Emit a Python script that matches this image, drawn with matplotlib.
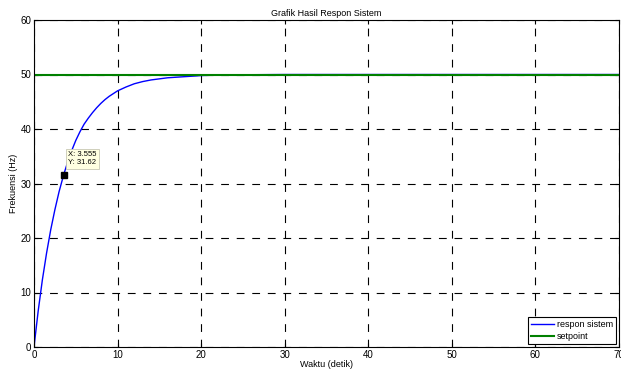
import matplotlib
matplotlib.use("Agg")
import matplotlib.pyplot as plt

plt.rcParams['font.family'] = ['Liberation Sans', 'DejaVu Sans']

# waktu (detik) dan respon sistem (Hz)
waktu = [0, 0.5, 1, 1.5, 2, 2.5, 3, 3.555, 4, 4.5, 5, 5.5, 6, 6.5, 7, 7.5, 8,
         8.5, 9, 9.5, 10, 11, 12, 13, 14, 15, 16, 17, 18, 19, 20, 22, 25, 30,
         40, 50, 60, 70]
respon = [0, 6.6, 12.3, 17.2, 21.5, 25.2, 28.5, 31.62, 33.8, 36.0, 37.9, 39.5,
          40.9, 42.0, 43.0, 43.9, 44.7, 45.4, 46.0, 46.5, 47.0, 47.7, 48.3,
          48.7, 49.0, 49.2, 49.4, 49.5, 49.6, 49.7, 49.8, 49.9, 49.95, 50, 50,
          50, 50, 50]
setpoint_t = [0, 70]
setpoint_y = [50, 50]
tip_x = 3.555
tip_y = 31.62

fig = plt.figure(figsize=(6.21, 3.73), dpi=100)
ax = fig.add_axes([34 / 621, 26 / 373, 585 / 621, 327 / 373])

ax.plot(waktu, respon, color="#0000ff", lw=1.0, label="respon sistem")
ax.plot(setpoint_t, setpoint_y, color="#008000", lw=1.5, label="setpoint")
ax.plot([tip_x], [tip_y], marker="s", color="black", ms=4, ls="none")
ax.annotate("X: " + str(tip_x) + "\nY: " + str(tip_y), xy=(tip_x, tip_y),
            xytext=(3, 6), textcoords="offset points", fontsize=5.5,
            va="bottom", ha="left",
            bbox=dict(boxstyle="square,pad=0.3", fc="#ffffe1", ec="#c8c8b4", lw=0.6))

ax.set_xlim(0, 70)
ax.set_ylim(0, 60)
ax.set_xticks(range(0, 71, 10))
ax.set_yticks(range(0, 61, 10))
ax.grid(True, color="black", linestyle=(0, (7, 7)), lw=0.8)
ax.tick_params(direction="in", top=True, right=True, labelsize=7, length=3, pad=2)
for s in ax.spines.values():
    s.set_linewidth(0.8)

ax.set_title("Grafik Hasil Respon Sistem", fontsize=6.5, pad=3)
ax.set_xlabel("Waktu (detik)", fontsize=6.5, labelpad=0)
ax.set_ylabel("Frekuensi (Hz)", fontsize=6.5, labelpad=2)

leg = ax.legend(loc="lower right", fontsize=6.5, fancybox=False, framealpha=1,
                edgecolor="black", handlelength=2.5, borderpad=0.35,
                labelspacing=0.25, handletextpad=0.3, borderaxespad=0.35)
leg.get_frame().set_linewidth(0.8)

fig.savefig("out.png", dpi=100)
